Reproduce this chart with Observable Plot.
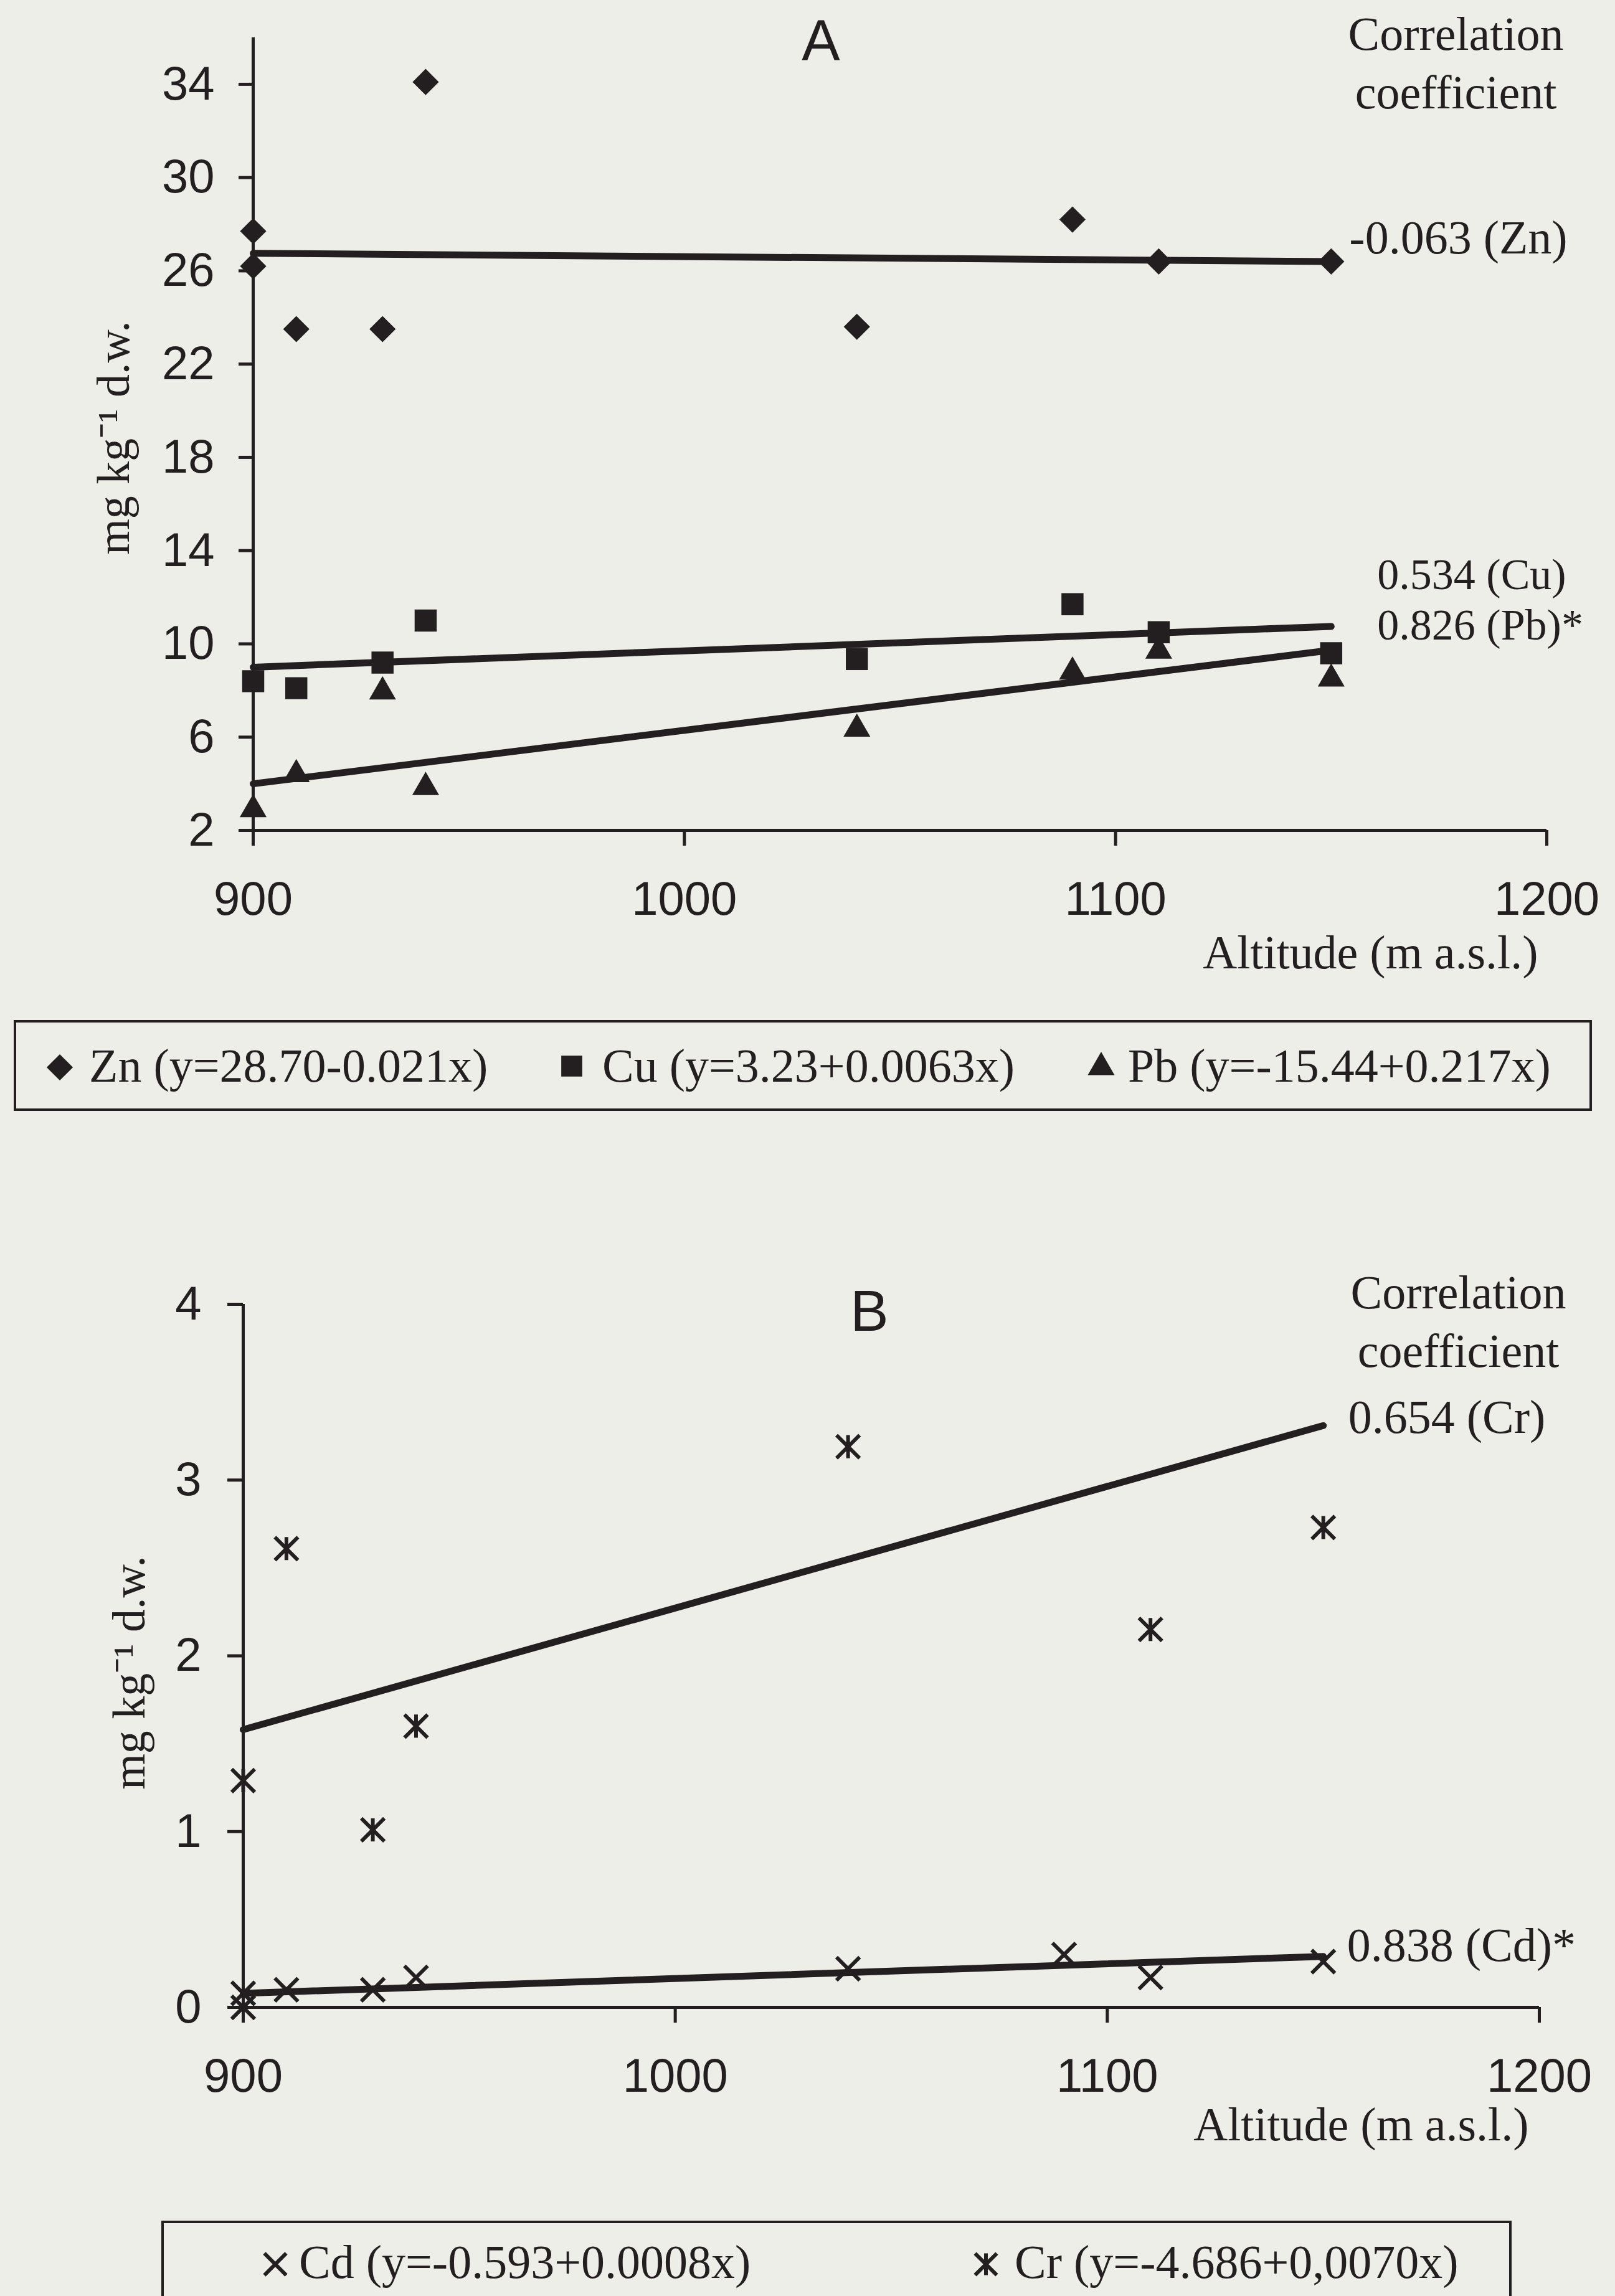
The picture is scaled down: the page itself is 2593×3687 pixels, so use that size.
<!DOCTYPE html>
<html>
<head>
<meta charset="utf-8">
<script src="https://cdn.jsdelivr.net/npm/d3@7"></script>
<script src="https://cdn.jsdelivr.net/npm/@observablehq/plot@0.6"></script>
<style>
  html, body { margin: 0; padding: 0; background: #eeeee9; }
  #page { position: relative; width: 2593px; height: 3687px; overflow: hidden; background: #eeeee9; }
  #page > svg, #page > figure { position: absolute; margin: 0; }
</style>
</head>
<body>
<div id="page"></div>
<script>
// ---------------- DATA ----------------
// Panel A
const altitudeZn = [900, 900, 910, 930, 940, 1040, 1090, 1110, 1150];
const zn         = [27.7, 26.2, 23.5, 23.5, 34.1, 23.6, 28.2, 26.4, 26.4];
const altitudeCuPb = [900, 910, 930, 940, 1040, 1090, 1110, 1150];
const cu         = [8.4, 8.1, 9.2, 11.0, 9.35, 11.7, 10.5, 9.6];
const pb         = [2.9, 4.4, 7.95, 3.85, 6.35, 8.8, 9.7, 8.5];
// Panel B
const altitudeCd = [900, 900, 910, 930, 940, 1040, 1090, 1110, 1150];
const cd         = [0.08, 0.0, 0.10, 0.10, 0.17, 0.22, 0.30, 0.17, 0.26];
const altitudeCr = [900, 910, 930, 940, 1040, 1110, 1150];
const cr         = [1.29, 2.61, 1.01, 1.60, 3.19, 2.15, 2.73];
// Trend lines (ends as drawn in the picture)
const trendAltitude = [900, 1150];
const trendZn = [26.75, 26.4];
const trendCu = [9.0, 10.75];
const trendPb = [4.0, 9.73];
const trendCr = [1.58, 3.31];
const trendCd = [0.08, 0.29];
// Ticks
const ticksX  = [900, 1000, 1100, 1200];
const ticksYA = [2, 6, 10, 14, 18, 22, 26, 30, 34];
const ticksYB = [0, 1, 2, 3, 4];
// Labels
const corrZn = "-0.063 (Zn)";
const corrCu = "0.534 (Cu)";
const corrPb = "0.826 (Pb)*";
const corrCr = "0.654 (Cr)";
const corrCd = "0.838 (Cd)*";
const corrHeader = "Correlation\ncoefficient";
const xLabel = "Altitude (m a.s.l.)";
const yLabel = "mg kg\u207B\u00B9 d.w.";
const legendA = ["Zn (y=28.70-0.021x)", "Cu (y=3.23+0.0063x)", "Pb (y=-15.44+0.217x)"];
const legendB = ["Cd (y=-0.593+0.0008x)", "Cr (y=-4.686+0,0070x)"];

// ---------------- STYLE ----------------
const ink = "#231e1f";
const serif = '"Liberation Serif", "Times New Roman", serif';
const sans = '"Liberation Sans", Arial, sans-serif';
const page = document.getElementById("page");

// custom Cr marker: an X with a vertical bar
const crSymbol = {
  draw(context, size) {
    const h = Math.sqrt(size) * 0.615;
    context.moveTo(0, -h); context.lineTo(0, h);
    context.moveTo(-h, -h); context.lineTo(h, h);
    context.moveTo(-h, h); context.lineTo(h, -h);
  }
};

const baseStyle = {background: "transparent", color: ink, fontFamily: sans, fontSize: "76px", overflow: "visible"};

// ---------------- PANEL A ----------------
const plotA = Plot.plot({
  width: 2593, height: 1600,
  marginLeft: 406, marginRight: 110, marginTop: 60, marginBottom: 267,
  style: baseStyle,
  x: {domain: [900, 1200]},
  y: {domain: [2, 36]},
  marks: [
    Plot.ruleX([900], {stroke: ink, strokeWidth: 5}),
    Plot.ruleY([2], {stroke: ink, strokeWidth: 5}),
    Plot.axisX({ticks: ticksX, tickSize: 25, tickPadding: 57, strokeWidth: 5, fontSize: 76, tickFormat: "d", label: null}),
    Plot.axisY({ticks: ticksYA, tickSize: 23, tickPadding: 39, strokeWidth: 5, fontSize: 76, tickFormat: "d", label: null}),
    Plot.line(trendZn, {x: trendAltitude, y: trendZn, stroke: ink, strokeWidth: 11}),
    Plot.line(trendCu, {x: trendAltitude, y: trendCu, stroke: ink, strokeWidth: 11}),
    Plot.line(trendPb, {x: trendAltitude, y: trendPb, stroke: ink, strokeWidth: 11}),
    Plot.dot(zn, {x: altitudeZn, y: zn, symbol: "diamond2", r: 19, fill: ink, stroke: "none"}),
    Plot.dot(cu, {x: altitudeCuPb, y: cu, symbol: "square", r: 20, fill: ink, stroke: "none"}),
    Plot.dot(pb, {x: altitudeCuPb, y: pb, symbol: "triangle", r: 16, fill: ink, stroke: "none"}),
    Plot.text(["A"], {text: d => d, frameAnchor: "top", dx: -127, dy: -29, lineAnchor: "top", fontFamily: sans, fontSize: 92, fill: ink}),
    Plot.text([corrHeader], {text: d => d, frameAnchor: "top-right", dx: -146, dy: 113, textAnchor: "middle", lineAnchor: "bottom", lineHeight: 1.237, fontFamily: serif, fontSize: 76, fill: ink}),
    Plot.text([corrZn], {text: d => d, x: [trendAltitude[1]], y: [trendZn[1]], dx: 29, dy: -13, textAnchor: "start", lineAnchor: "bottom", fontFamily: serif, fontSize: 76, fill: ink}),
    Plot.text([corrCu], {text: d => d, x: [trendAltitude[1]], y: [trendCu[1]], dx: 74, dy: -60, textAnchor: "start", lineAnchor: "bottom", fontFamily: serif, fontSize: 70, fill: ink}),
    Plot.text([corrPb], {text: d => d, x: [trendAltitude[1]], y: [trendCu[1]], dx: 74, dy: 21, textAnchor: "start", lineAnchor: "bottom", fontFamily: serif, fontSize: 70, fill: ink}),
    Plot.text([xLabel], {text: d => d, frameAnchor: "bottom-right", dx: -14, dy: 221, textAnchor: "end", lineAnchor: "bottom", fontFamily: serif, fontSize: 76, fill: ink}),
    Plot.text([yLabel], {text: d => d, frameAnchor: "left", rotate: -90, dx: -223, dy: 6, textAnchor: "middle", lineAnchor: "middle", fontFamily: serif, fontSize: 74, fill: ink})
  ]
});
plotA.style.left = "0px"; plotA.style.top = "0px";
page.appendChild(plotA);

// ---------------- PANEL B ----------------
const plotB = Plot.plot({
  width: 2593, height: 1560,
  marginLeft: 390, marginRight: 122, marginTop: 94, marginBottom: 337,
  style: baseStyle,
  x: {domain: [900, 1200]},
  y: {domain: [0, 4]},
  marks: [
    Plot.ruleX([900], {stroke: ink, strokeWidth: 5}),
    Plot.ruleY([0], {stroke: ink, strokeWidth: 5}),
    Plot.axisX({ticks: ticksX, tickSize: 25, tickPadding: 57, strokeWidth: 5, fontSize: 76, tickFormat: "d", label: null}),
    Plot.axisY({ticks: ticksYB, tickSize: 25, tickPadding: 42, strokeWidth: 5, fontSize: 76, tickFormat: "d", label: null}),
    Plot.line(trendCr, {x: trendAltitude, y: trendCr, stroke: ink, strokeWidth: 11}),
    Plot.line(trendCd, {x: trendAltitude, y: trendCd, stroke: ink, strokeWidth: 11}),
    Plot.dot(cd, {x: altitudeCd, y: cd, symbol: "times", r: 17, fill: "none", stroke: ink, strokeWidth: 6}),
    Plot.dot(cr, {x: altitudeCr, y: cr, symbol: crSymbol, r: 17, fill: "none", stroke: ink, strokeWidth: 6}),
    Plot.text(["B"], {text: d => d, frameAnchor: "top", dx: -35, dy: -23, lineAnchor: "top", fontFamily: sans, fontSize: 92, fill: ink}),
    Plot.text([corrHeader], {text: d => d, frameAnchor: "top-right", dx: -130, dy: 100, textAnchor: "middle", lineAnchor: "bottom", lineHeight: 1.237, fontFamily: serif, fontSize: 76, fill: ink}),
    Plot.text([corrCr], {text: d => d, x: [trendAltitude[1]], y: [trendCr[1]], dx: 40, dy: 12, textAnchor: "start", lineAnchor: "bottom", fontFamily: serif, fontSize: 76, fill: ink}),
    Plot.text([corrCd], {text: d => d, x: [trendAltitude[1]], y: [trendCd[1]], dx: 38, dy: 7, textAnchor: "start", lineAnchor: "bottom", fontFamily: serif, fontSize: 76, fill: ink}),
    Plot.text([xLabel], {text: d => d, frameAnchor: "bottom-right", dx: -17, dy: 213, textAnchor: "end", lineAnchor: "bottom", fontFamily: serif, fontSize: 76, fill: ink}),
    Plot.text([yLabel], {text: d => d, frameAnchor: "left", rotate: -90, dx: -182, dy: 27, textAnchor: "middle", lineAnchor: "middle", fontFamily: serif, fontSize: 74, fill: ink})
  ]
});
plotB.style.left = "0px"; plotB.style.top = "2000px";
page.appendChild(plotB);

// ---------------- LEGENDS (below each chart) ----------------
const leg = d3.select(page).append("svg")
  .attr("width", 2593).attr("height", 3687)
  .style("left", "0px").style("top", "0px").style("pointer-events", "none");

function legendBox(x, y, w, h) {
  leg.append("rect").attr("x", x).attr("y", y).attr("width", w).attr("height", h)
    .attr("fill", "none").attr("stroke", ink).attr("stroke-width", 4);
}
function legendItem(cx, cy, symbol, r, filled, sw, label, tx, baseline) {
  leg.append("path")
    .attr("transform", `translate(${cx},${cy})`)
    .attr("d", d3.symbol(symbol, Math.PI * r * r)())
    .attr("fill", filled ? ink : "none")
    .attr("stroke", filled ? "none" : ink)
    .attr("stroke-width", sw);
  leg.append("text").attr("x", tx).attr("y", baseline)
    .attr("font-family", serif).attr("font-size", 76).attr("fill", ink)
    .text(label);
}
// Legend A
legendBox(24, 1640, 2530, 142);
legendItem(96, 1714, d3.symbolDiamond2, 19, true, 0, legendA[0], 143, 1737);
legendItem(918, 1712, d3.symbolSquare, 19, true, 0, legendA[1], 967, 1737);
legendItem(1768, 1714, d3.symbolTriangle, 16, true, 0, legendA[2], 1811, 1737);
// Legend B
legendBox(261, 3568, 2164, 200);
legendItem(442, 3636, d3.symbolTimes, 16, false, 6, legendB[0], 480, 3658);
legendItem(1583, 3636, crSymbol, 16, false, 6, legendB[1], 1629, 3658);
</script>
</body>
</html>
